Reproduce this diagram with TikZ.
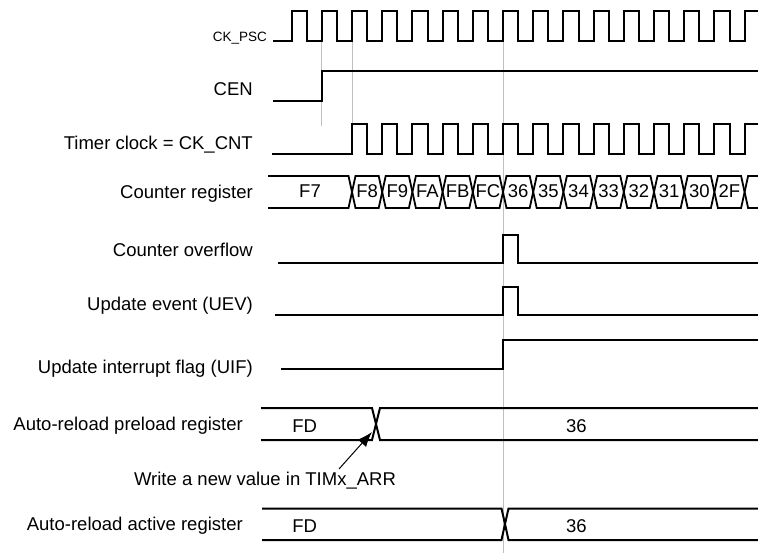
\documentclass[tikz,border=0pt]{standalone}
\usepackage{fontspec}
\setmainfont{Liberation Sans}
\usepackage{tikz}
\usetikzlibrary{arrows.meta}

\begin{document}
\begin{tikzpicture}[
  x=1pt, y=-1pt,
  wave/.style={line width=2pt, line join=miter},
  bus/.style={line width=1.8pt, line join=miter},
  guide/.style={line width=1pt, black!25},
  signame/.style={anchor=base east, inner sep=0pt, font=\fontsize{18.5}{22}\selectfont},
  busval/.style={anchor=base, inner sep=0pt, font=\fontsize{18.5}{22}\selectfont},
  pointer/.style={-{Latex[length=15pt, width=11pt]}, line width=1pt}
]
\useasboundingbox (0,0) rectangle (758,555);
\def\per{30.2}
\draw[guide] (321.8,41) -- (321.8,126);
\draw[guide] (352,41) -- (352,124);
\draw[guide] (503,41) -- (503,553);
\node[signame, font=\fontsize{13.5}{16}\selectfont] (lblPsc) at (267,41.5) {CK\_PSC};
\node[signame] (lblCen) at (253,95) {CEN};
\node[signame] (lblCnt) at (253,149.3) {Timer clock = CK\_CNT};
\node[signame] (lblReg) at (253,198.3) {Counter register};
\node[signame] (lblOvf) at (253,256) {Counter overflow};
\node[signame] (lblUev) at (253,310) {Update event (UEV)};
\node[signame] (lblUif) at (253,373) {Update interrupt flag (UIF)};
\node[signame] (lblPre) at (243,430.5) {Auto-reload preload register};
\node[signame] (lblAct) at (243,530.5) {Auto-reload active register};
\draw[wave] (273,41) \foreach \k in {0,...,14} { -- ({291.6+\per*\k},41) -- ++(0,-30) -- ++(15.1,0) -- ++(0,30) } -- (744.6,41) -- (744.6,11) -- (758,11);
\draw[wave] (273,101) -- (321.8,101) -- (321.8,71) -- (758,71);
\draw[wave] (272,154) \foreach \k in {0,...,12} { -- ({352+\per*\k},154) -- ++(0,-30) -- ++(15.1,0) -- ++(0,30) } -- (744.6,154) -- (744.6,124) -- (758,124);
\draw[bus] (268,176) -- (348.5,176) -- (352,192) -- (348.5,208) -- (268,208);
\node[busval] (cntF7) at (310,197) {F7};
\foreach \v [count=\i from 0] in {F8,F9,FA,FB,FC,36,35,34,33,32,31,30,2F} {
  \pgfmathsetmacro\a{352+\per*\i}
  \pgfmathsetmacro\b{\a+\per}
  \draw[bus] (\a,192) -- (\a+3.5,176) -- (\b-3.5,176) -- (\b,192) -- (\b-3.5,208) -- (\a+3.5,208) -- cycle;
  \node[busval] (cnt\v) at ({(\a+\b)/2},197) {\v};
}
\draw[bus] (758,176) -- (748.1,176) -- (744.6,192) -- (748.1,208) -- (758,208);
\draw[wave] (278,262.5) -- (503,262.5) -- (503,234.5) -- (518,234.5) -- (518,262.5) -- (758,262.5);
\draw[wave] (275,315) -- (503,315) -- (503,287) -- (518,287) -- (518,315) -- (758,315);
\draw[wave] (281,369) -- (503,369) -- (503,340) -- (758,340);
\draw[wave] (261,408) -- (372,408) -- (376,424) -- (372,440) -- (261,440);
\draw[wave] (758,408) -- (380,408) -- (376,424) -- (380,440) -- (758,440);
\node[busval] (preOld) at (304.7,432.5) {FD};
\node[busval] (preNew) at (576.3,432.5) {36};
\draw[wave] (262,508.5) -- (501.5,508.5) -- (505,524) -- (501.5,540) -- (262,540);
\draw[wave] (758,508.5) -- (508.5,508.5) -- (505,524) -- (508.5,540) -- (758,540);
\node[busval] (actOld) at (304.7,532) {FD};
\node[busval] (actNew) at (576.3,532) {36};
\node[busval] (note) at (265,485.7) {Write a new value in TIMx\_ARR};
\coordinate (noteTail) at (339,469);
\coordinate (preEdge) at (372,432);
\draw[pointer] (noteTail) -- (preEdge);
\end{tikzpicture}
\end{document}
